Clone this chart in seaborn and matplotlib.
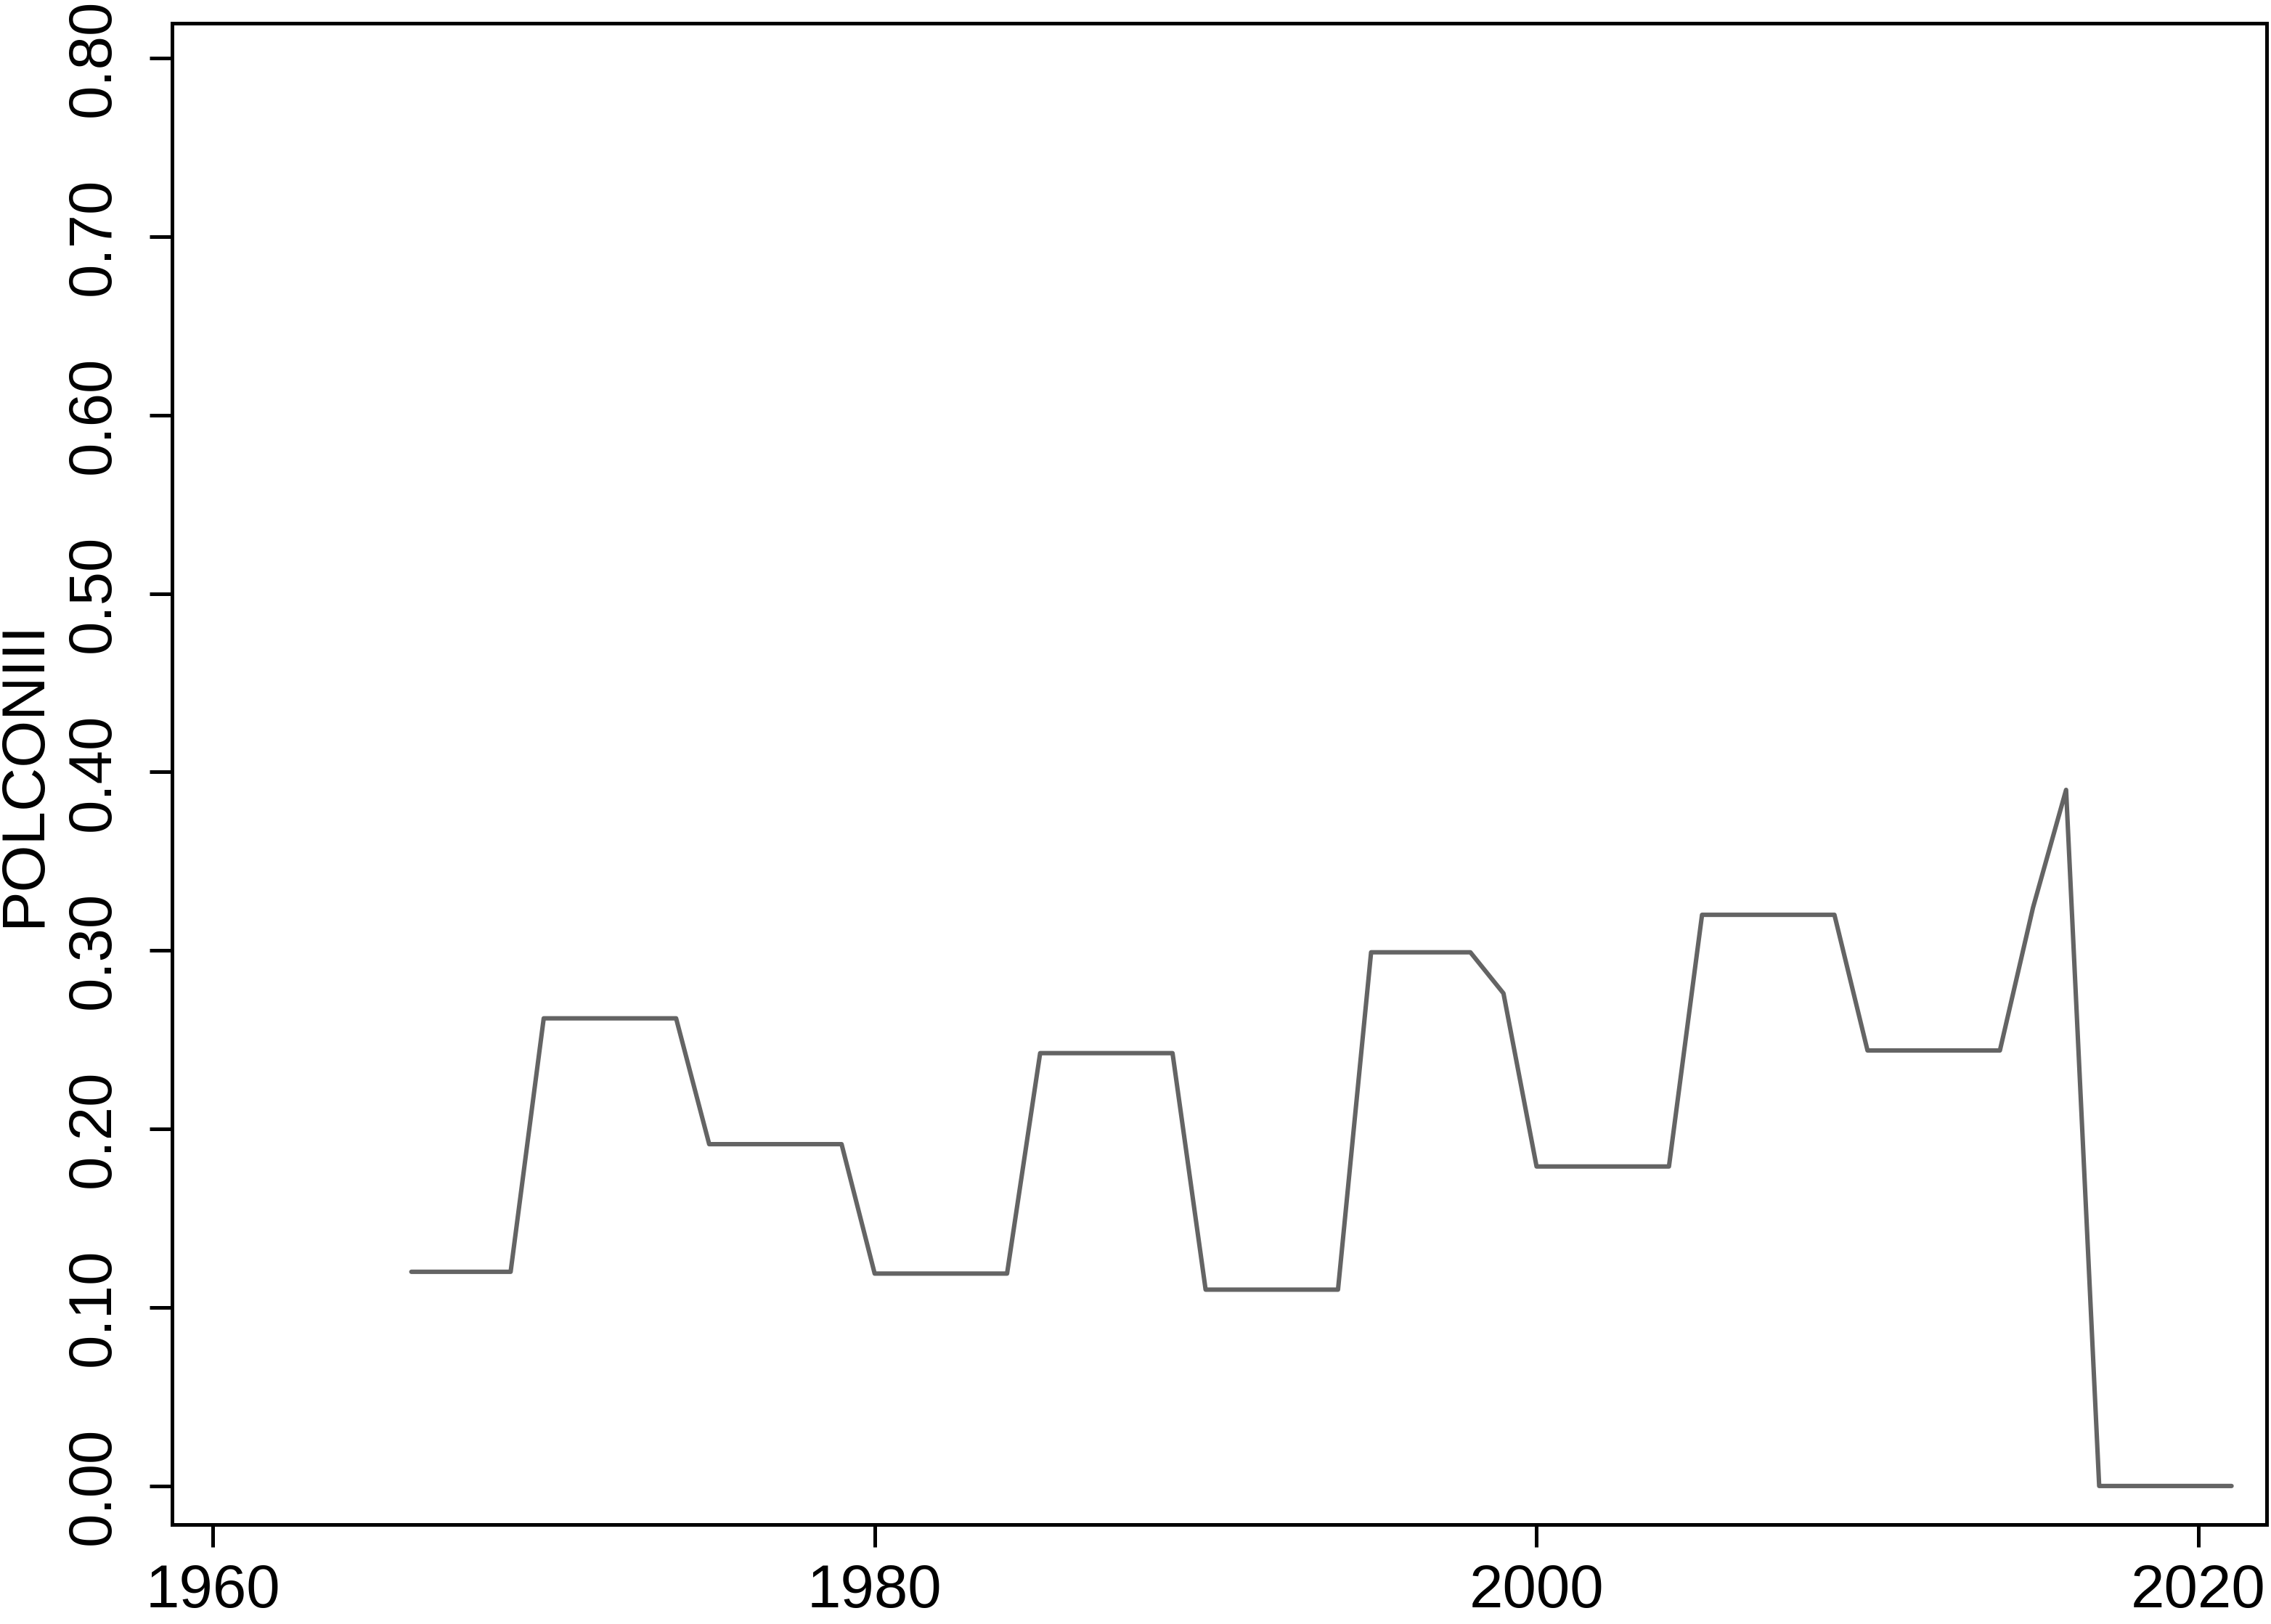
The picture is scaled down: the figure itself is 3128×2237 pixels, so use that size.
import pandas as pd
import matplotlib
matplotlib.use("Agg")
import matplotlib.pyplot as plt
import seaborn as sns

# data
years = [1966, 1969, 1970, 1974, 1975, 1979, 1980, 1984, 1985, 1989,
         1990, 1994, 1995, 1998, 1999, 2000, 2004, 2005, 2009, 2010,
         2014, 2015, 2016, 2017, 2021]
polcon = [0.120, 0.120, 0.262, 0.262, 0.1915, 0.1915, 0.119, 0.119, 0.2425, 0.2425,
          0.110, 0.110, 0.299, 0.299, 0.276, 0.179, 0.179, 0.320, 0.320, 0.244,
          0.244, 0.324, 0.390, 0.0, 0.0]
x_ticks = [1960, 1980, 2000, 2020]
y_ticks = [0.0, 0.1, 0.2, 0.3, 0.4, 0.5, 0.6, 0.7, 0.8]

df = pd.DataFrame({"year": years, "POLCONIII": polcon})

sns.set_theme(style="ticks")
plt.rcParams["font.family"] = ["Liberation Sans", "DejaVu Sans"]

fig = plt.figure(figsize=(15.64, 11.185), dpi=200)
ax = fig.add_axes([237 / 3128, 1 - 2100 / 2237, (3122 - 237) / 3128, (2100 - 32) / 2237])

sns.lineplot(data=df, x="year", y="POLCONIII", color="#646464", linewidth=2.2, ax=ax)

ax.set_xlim(1958.77, 2022.06)
ax.set_ylim(-0.0216, 0.8195)
ax.set_xticks(x_ticks)
ax.set_yticks(y_ticks)
ax.set_yticklabels([f"{v:.2f}" for v in y_ticks], rotation=90, va="center")
ax.set_xlabel("")
ax.set_ylabel("POLCONIII", fontsize=30, color="black")
ax.yaxis.set_label_coords(-0.057, 0.5)

for s in ax.spines.values():
    s.set_visible(True)
    s.set_linewidth(1.8)
    s.set_color("black")
ax.tick_params(axis="both", direction="out", length=11, width=1.8, color="black",
               labelsize=30, labelcolor="black")
ax.tick_params(axis="y", pad=14)
ax.tick_params(axis="x", pad=8)

fig.savefig("out.png", dpi=200, facecolor="white")
